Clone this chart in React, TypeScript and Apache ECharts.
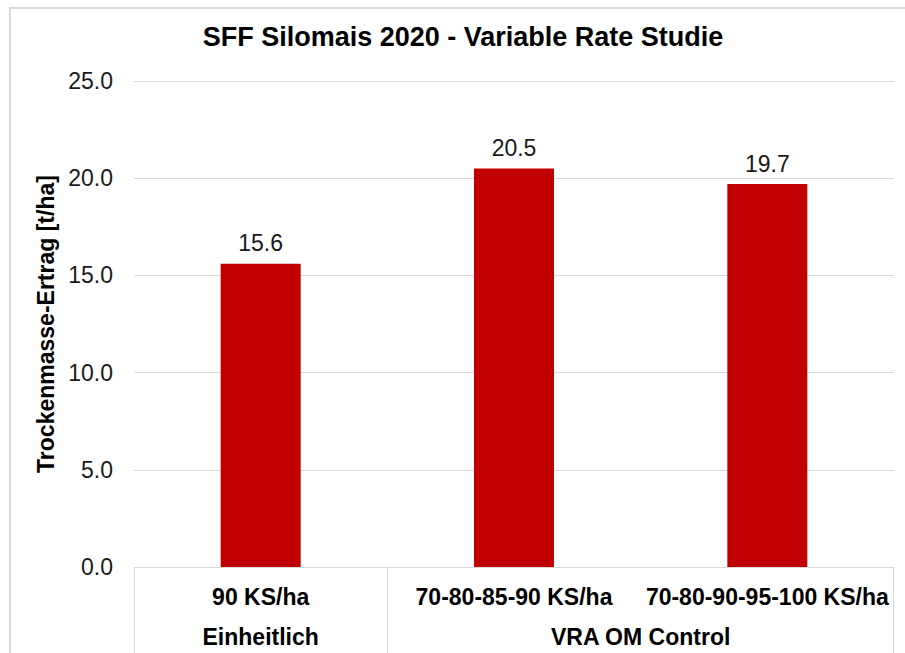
import React, { useEffect, useRef } from "react";
import * as echarts from "echarts";

const titleText = "SFF Silomais 2020 - Variable Rate Studie";
const yAxisName = "Trockenmasse-Ertrag [t/ha]";
const categories = ["90 KS/ha", "70-80-85-90 KS/ha", "70-80-90-95-100 KS/ha"];
const values = [15.6, 20.5, 19.7];
const groups = ["Einheitlich", "VRA OM Control"];
const groupStart = [0, 1];
const groupEnd = [0, 2];
const yMin = 0;
const yMax = 25;
const yInterval = 5;

const FONT = "'Liberation Sans', Arial, sans-serif";
const GRID_LEFT = 134;
const GRID_RIGHT = 11;
const GRID_TOP = 81;
const GRID_BOTTOM = 86;
const W = 905;
const H = 653;

export default function App() {
  const ref = useRef<HTMLDivElement>(null);
  useEffect(() => {
    document.body.style.margin = "0";
    if (!ref.current) return;
    const chart = echarts.init(ref.current, undefined, { renderer: "svg", width: W, height: H });
    chart.setOption({
      animation: false,
      backgroundColor: "#ffffff",
      title: {
        text: titleText,
        left: 463,
        textAlign: "center",
        top: 23,
        padding: 0,
        textStyle: { fontFamily: FONT, fontSize: 27, fontWeight: "bold", color: "#000000" },
      },
      grid: { left: GRID_LEFT, right: GRID_RIGHT, top: GRID_TOP, bottom: GRID_BOTTOM, containLabel: false },
      xAxis: {
        type: "category",
        data: categories,
        axisLine: { show: true, lineStyle: { color: "#d9d9d9", width: 1 } },
        axisTick: { show: false },
        axisLabel: {
          interval: 0,
          margin: 18,
          fontFamily: FONT,
          fontSize: 23,
          fontWeight: "bold",
          color: "#000000",
        },
      },
      yAxis: {
        type: "value",
        min: yMin,
        max: yMax,
        interval: yInterval,
        name: yAxisName,
        nameLocation: "middle",
        nameRotate: 90,
        nameGap: 71,
        nameTextStyle: { fontFamily: FONT, fontSize: 23, fontWeight: "bold", color: "#000000" },
        axisLine: { show: false },
        axisTick: { show: false },
        splitLine: { lineStyle: { color: "#d9d9d9", width: 1 } },
        axisLabel: {
          margin: 21,
          fontFamily: FONT,
          fontSize: 23,
          color: "#1a1a1a",
          formatter: (v: number) => v.toFixed(1),
        },
      },
      series: [
        {
          type: "bar",
          data: values,
          barWidth: 80,
          itemStyle: { color: "#C00000" },
          label: {
            show: true,
            position: "top",
            distance: 9,
            fontFamily: FONT,
            fontSize: 23,
            color: "#1a1a1a",
            formatter: (p: any) => Number(p.value).toFixed(1),
          },
        },
      ],
    });

    const c0 = chart.convertToPixel({ xAxisIndex: 0 }, 0) as number;
    const c1 = chart.convertToPixel({ xAxisIndex: 0 }, 1) as number;
    const band = c1 - c0;
    const yBase = chart.convertToPixel({ yAxisIndex: 0 }, yMin) as number;
    const lineStyle = { stroke: "#d9d9d9", lineWidth: 1 };
    const elements: any[] = [
      { type: "line", shape: { x1: 9, y1: 8, x2: W, y2: 8 }, style: { stroke: "#d9d9d9", lineWidth: 2 }, silent: true },
      { type: "line", shape: { x1: 10, y1: 7, x2: 10, y2: H }, style: { stroke: "#d9d9d9", lineWidth: 2 }, silent: true },
    ];
    groups.forEach((g, i) => {
      const left = (chart.convertToPixel({ xAxisIndex: 0 }, groupStart[i]) as number) - band / 2;
      const right = (chart.convertToPixel({ xAxisIndex: 0 }, groupEnd[i]) as number) + band / 2;
      const lx = Math.round(left) + 0.5;
      const rx = Math.round(right) - 0.5;
      elements.push({ type: "line", shape: { x1: lx, y1: yBase, x2: lx, y2: H }, style: lineStyle, silent: true });
      if (i === groups.length - 1) {
        elements.push({ type: "line", shape: { x1: rx, y1: yBase, x2: rx, y2: H }, style: lineStyle, silent: true });
      }
      elements.push({
        type: "text",
        x: (left + right) / 2,
        y: yBase + 70,
        style: {
          text: g,
          fontFamily: FONT,
          fontSize: 23,
          fontWeight: "bold",
          fill: "#000000",
          textAlign: "center",
          textVerticalAlign: "middle",
        },
        silent: true,
      });
    });
    chart.setOption({ graphic: { elements } });
    return () => chart.dispose();
  }, []);
  return <div ref={ref} style={{ width: W, height: H }} />;
}
